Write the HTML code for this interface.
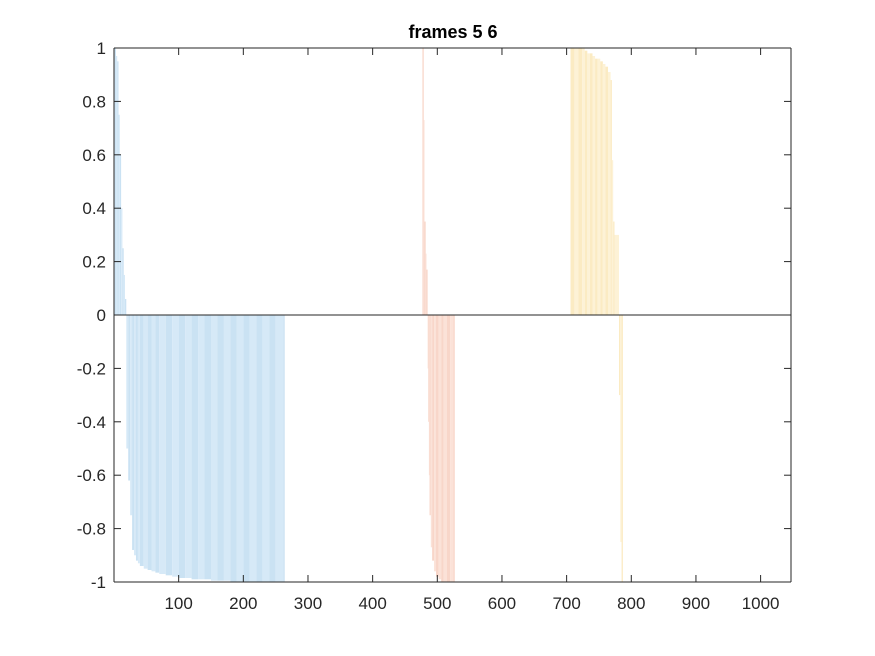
<!DOCTYPE html>
<html><head><meta charset="utf-8"><style>
html,body{margin:0;padding:0;background:#fff;}
svg{display:block;font-family:"Liberation Sans",Arial,sans-serif;}
</style></head><body>
<svg id="chart" width="875" height="656" viewBox="0 0 875 656" xmlns="http://www.w3.org/2000/svg">
<rect width="875" height="656" fill="#fff"/>
<text x="453" y="38" text-anchor="middle" font-size="18" font-weight="bold" fill="#000">frames 5 6</text>
<g id="bars"></g>
<g id="axes"></g>
</svg>
<script>
const blueX = [1,3,5,7,9,11,13,15,17,19,22,25,28,31,34,37,40,46,52,58,64,70,80,90,100,110,120,130,140,150,160,170,180,190,200,210,220,230,240,250,262];
const blueY = [1,0.97,0.95,0.75,0.6,0.4,0.25,0.15,0.06,-0.5,-0.62,-0.75,-0.88,-0.9,-0.92,-0.93,-0.94,-0.95,-0.955,-0.96,-0.965,-0.97,-0.975,-0.98,-0.985,-0.985,-0.99,-0.99,-0.99,-0.995,-0.995,-0.995,-1,-1,-1,-1,-1,-1,-1,-1,-1];
const redX = [477,479,480,482,483,485,486,487,488,490,492,495,498,502,506,510,515,520,525];
const redY = [1,0.73,0.35,0.23,0.17,-0.2,-0.4,-0.6,-0.75,-0.87,-0.92,-0.96,-0.98,-0.99,-1,-1,-1,-1,-1];
const orangeX = [706,712,718,724,728,732,736,740,744,748,752,756,760,764,768,770,772,774,781,783,785];
const orangeY = [1,1,1,1,0.99,0.98,0.98,0.97,0.96,0.96,0.95,0.94,0.93,0.91,0.88,0.58,0.35,0.3,-0.3,-0.85,-1];
const xTicks = [100,200,300,400,500,600,700,800,900,1000];
const yTicks = [-1,-0.8,-0.6,-0.4,-0.2,0,0.2,0.4,0.6,0.8,1];
const yTickLabels = ["-1","-0.8","-0.6","-0.4","-0.2","0","0.2","0.4","0.6","0.8","1"];

const L=114, R=791, T=48, B=582, XMIN=0, XMAX=1047;
const sx = v => L + (v-XMIN)/(XMAX-XMIN)*(R-L);
const sy = v => B - (v+1)/2*(B-T);
const NS="http://www.w3.org/2000/svg";
const bars=document.getElementById('bars');
const axes=document.getElementById('axes');

function drawSeries(xs, ys, fillA, fillB, name){
  for(let i=0;i<xs.length;i++){
    const w = Math.min(i<xs.length-1 ? xs[i+1]-xs[i] : 2, 12);
    const x0=sx(xs[i]), x1=sx(xs[i]+w);
    const y0=sy(0), y1=sy(ys[i]);
    const r=document.createElementNS(NS,'rect');
    r.setAttribute('x',x0);
    r.setAttribute('width',Math.max(x1-x0,0.8));
    r.setAttribute('y',Math.min(y0,y1));
    r.setAttribute('height',Math.abs(y1-y0));
    r.setAttribute('fill', i%2 ? fillA : fillB);
    
    
    bars.appendChild(r);
  }
}
drawSeries(blueX, blueY, '#d6e9f7', '#cae2f3', 'bar-frame-blue');
drawSeries(redX, redY, '#fbe2d8', '#f8d6c9', 'bar-frame-red');
drawSeries(orangeX, orangeY, '#fdf2d6', '#fbebc3', 'bar-frame-orange');

function line(x1,y1,x2,y2,name,w){
  const l=document.createElementNS(NS,'line');
  l.setAttribute('x1',x1);l.setAttribute('y1',y1);l.setAttribute('x2',x2);l.setAttribute('y2',y2);
  l.setAttribute('stroke','#262626');l.setAttribute('stroke-width',w||1);
  
  
  axes.appendChild(l);
}
function text(x,y,s,anchor,name){
  const t=document.createElementNS(NS,'text');
  t.setAttribute('x',x);t.setAttribute('y',y);t.setAttribute('text-anchor',anchor);
  t.setAttribute('font-size','17');t.setAttribute('fill','#262626');
  t.textContent=s;
  
  
  axes.appendChild(t);
}
line(L, sy(0), R, sy(0), 'zero-baseline', 1);
line(L,T,R,T,'axes-top');
line(L,B,R,B,'axes-bottom');
line(L,T,L,B,'axes-left');
line(R,T,R,B,'axes-right');
xTicks.forEach(v=>{
  const x=sx(v);
  line(x,B,x,B-7,'x-tick');
  line(x,T,x,T+7,'x-tick-top');
  text(x,609,String(v),'middle','x-tick-label');
});
yTicks.forEach((v,i)=>{
  const y=sy(v);
  line(L,y,L+7,y,'y-tick');
  line(R,y,R-7,y,'y-tick-right');
  text(L-8,y+6,yTickLabels[i],'end','y-tick-label');
});
</script>
</body></html>
